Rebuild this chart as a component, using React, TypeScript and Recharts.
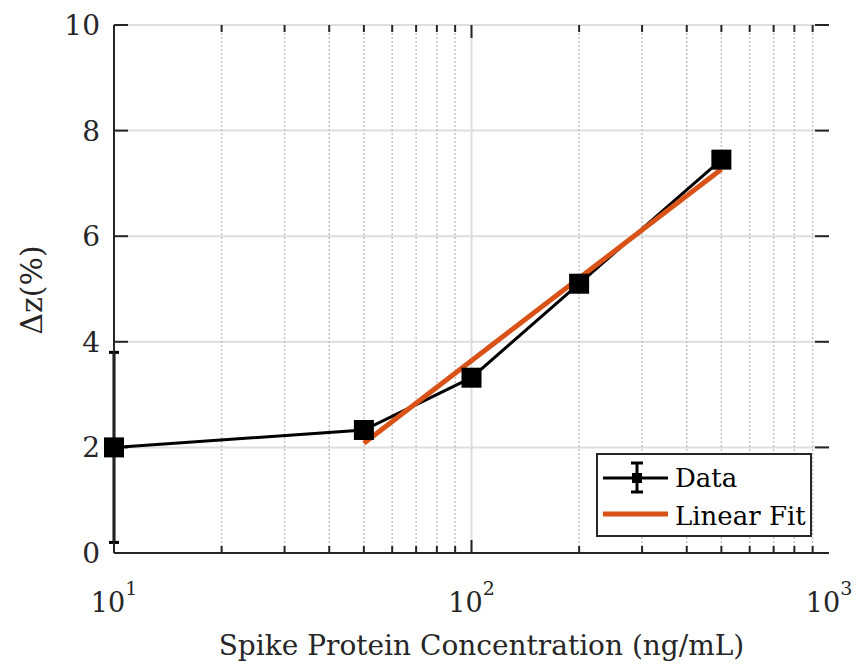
import React from 'react';
import {
  ComposedChart, Line, XAxis, YAxis, CartesianGrid, ReferenceLine, ErrorBar, Legend,
} from 'recharts';

// spike protein concentration (ng/mL) vs Δz (%)
const concentration = [10, 50, 100, 200, 500];
const deltaZ = [2.0, 2.33, 3.32, 5.1, 7.45];
const deltaZErr = [1.8, 0.12, 0.12, 0.12, 0.12];

const fitConcentration = [50, 500];
const fitDeltaZ = [2.08, 7.27];

const xMajorTicks = [10, 100, 1000];
const xMinorTicks = [20, 30, 40, 50, 60, 70, 80, 90, 200, 300, 400, 500, 600, 700, 800, 900];
const yTicks = [0, 2, 4, 6, 8, 10];

const data = concentration.map((c, i) => ({ x: c, dz: deltaZ[i], err: deltaZErr[i] }));
const fitData = fitConcentration.map((c, i) => ({ x: c, fit: fitDeltaZ[i] }));

const FONT = '"DejaVu Serif", serif';
const AXIS = '#262626';
const GRID = '#dedede';
const ORANGE = '#D95319';

// tick label only, tick marks are drawn with the grid lines so they sit on top
const BottomTick = (props: any) => {
  const { x, y, payload } = props;
  const exp = Math.round(Math.log10(payload.value));
  return (
    <text x={x} y={y + 59} textAnchor="middle" fill={AXIS} fontFamily={FONT} fontSize={27}>
      <tspan>10</tspan>
      <tspan dy={-17} fontSize={19}>{exp}</tspan>
    </text>
  );
};

const LeftTick = (props: any) => {
  const { x, y, payload } = props;
  return (
    <text x={x - 14} y={y} dy="0.36em" textAnchor="end" fill={AXIS} fontFamily={FONT} fontSize={28}>
      {payload.value}
    </text>
  );
};

// vertical grid line + inward ticks at both ends
const vGridShape = (major: boolean) => (p: any) => {
  const top = Math.min(p.y1, p.y2);
  const bottom = Math.max(p.y1, p.y2);
  const len = major ? 13 : 7;
  return (
    <g>
      <line x1={p.x1} x2={p.x2} y1={top} y2={bottom} stroke={major ? GRID : '#c4c4c4'}
        strokeWidth={major ? 2 : 1.5} strokeDasharray={major ? undefined : '2 2'} />
      <line x1={p.x1} x2={p.x1} y1={bottom} y2={bottom - len} stroke={AXIS} strokeWidth={2} />
      <line x1={p.x1} x2={p.x1} y1={top} y2={top + len} stroke={AXIS} strokeWidth={2} />
    </g>
  );
};

// horizontal grid line + inward ticks on left and right
const hGridLine = (p: any) => {
  const left = Math.min(p.x1, p.x2);
  const right = Math.max(p.x1, p.x2);
  return (
    <g key={`h-${p.index}-${p.y1}`}>
      <line x1={left} x2={right} y1={p.y1} y2={p.y2} stroke={GRID} strokeWidth={2} />
      <line x1={left} x2={left + 14} y1={p.y1} y2={p.y1} stroke={AXIS} strokeWidth={2} />
      <line x1={right - 14} x2={right} y1={p.y1} y2={p.y1} stroke={AXIS} strokeWidth={2} />
    </g>
  );
};

const SquareDot = (props: any) => {
  const { cx, cy, index } = props;
  return <rect key={`sq-${index}`} x={cx - 10} y={cy - 10} width={20} height={20} fill="#000" />;
};

const LegendBox = () => (
  <svg width={216} height={84} style={{ display: 'block' }}>
    <rect x={1} y={1} width={214} height={82} fill="#fff" stroke={AXIS} strokeWidth={2} />
    <line x1={7} x2={72} y1={25} y2={25} stroke="#000" strokeWidth={3} />
    <line x1={41} x2={41} y1={10} y2={39} stroke="#000" strokeWidth={3} />
    <line x1={35} x2={47} y1={10} y2={10} stroke="#000" strokeWidth={3} />
    <line x1={35} x2={47} y1={39} y2={39} stroke="#000" strokeWidth={3} />
    <rect x={36} y={20} width={10} height={10} fill="#000" />
    <text x={79} y={34} fill="#000" fontFamily={FONT} fontSize={26}>Data</text>
    <line x1={7} x2={72} y1={61} y2={61} stroke={ORANGE} strokeWidth={5} />
    <text x={79} y={72} fill="#000" fontFamily={FONT} fontSize={26}>Linear Fit</text>
  </svg>
);

const XLabel = (props: any) => {
  const { viewBox } = props;
  return (
    <text x={viewBox.x + viewBox.width / 2 + 10} y={viewBox.y + 102} textAnchor="middle"
      fill={AXIS} fontFamily={FONT} fontSize={28}>
      Spike Protein Concentration (ng/mL)
    </text>
  );
};

const YLabel = () => (
  <text x={42} y={290} transform="rotate(-90, 42, 290)" textAnchor="middle"
    fill={AXIS} fontFamily={FONT} fontSize={30}>
    Δz(%)
  </text>
);

export default function App() {
  return (
    <div style={{ position: 'absolute', left: 0, top: 0, background: '#fff' }}>
      <ComposedChart width={858} height={666} margin={{ top: 25, right: 29, bottom: 0, left: 0 }}>
        <CartesianGrid vertical={false} horizontal={hGridLine} />
        {xMinorTicks.map((v) => (
          <ReferenceLine key={`m-${v}`} x={v} shape={vGridShape(false)} />
        ))}
        <ReferenceLine x={100} shape={vGridShape(true)} />
        <XAxis dataKey="x" type="number" scale="log" domain={[10, 1000]} ticks={xMajorTicks}
          interval={0} height={113} tickSize={0} tickMargin={0}
          tickLine={false} stroke={AXIS} strokeWidth={2} tick={<BottomTick />} label={<XLabel />} />
        <XAxis xAxisId="top" orientation="top" dataKey="x" type="number" scale="log" domain={[10, 1000]}
          ticks={xMajorTicks} height={0} tickLine={false} tick={false} stroke={AXIS} strokeWidth={2} />
        <YAxis type="number" domain={[0, 10]} ticks={yTicks} interval={0} width={114}
          tickSize={0} tickMargin={0} tickLine={false} stroke={AXIS} strokeWidth={2}
          tick={<LeftTick />} label={<YLabel />} />
        <YAxis yAxisId="right" orientation="right" type="number" domain={[0, 10]} ticks={yTicks}
          width={0} tickLine={false} tick={false} stroke={AXIS} strokeWidth={2} />
        <Line data={data} dataKey="dz" stroke="#000" strokeWidth={3} dot={<SquareDot />}
          activeDot={false} isAnimationActive={false}>
          <ErrorBar dataKey="err" direction="y" width={5} stroke="#000" strokeWidth={3} />
        </Line>
        <Line data={fitData} dataKey="fit" stroke={ORANGE} strokeWidth={5} dot={false}
          activeDot={false} isAnimationActive={false} />
        <Legend layout="vertical" align="center" verticalAlign="middle" content={<LegendBox />}
          wrapperStyle={{ position: 'absolute', left: 596, top: 453, width: 216, height: 84 }} />
      </ComposedChart>
    </div>
  );
}
